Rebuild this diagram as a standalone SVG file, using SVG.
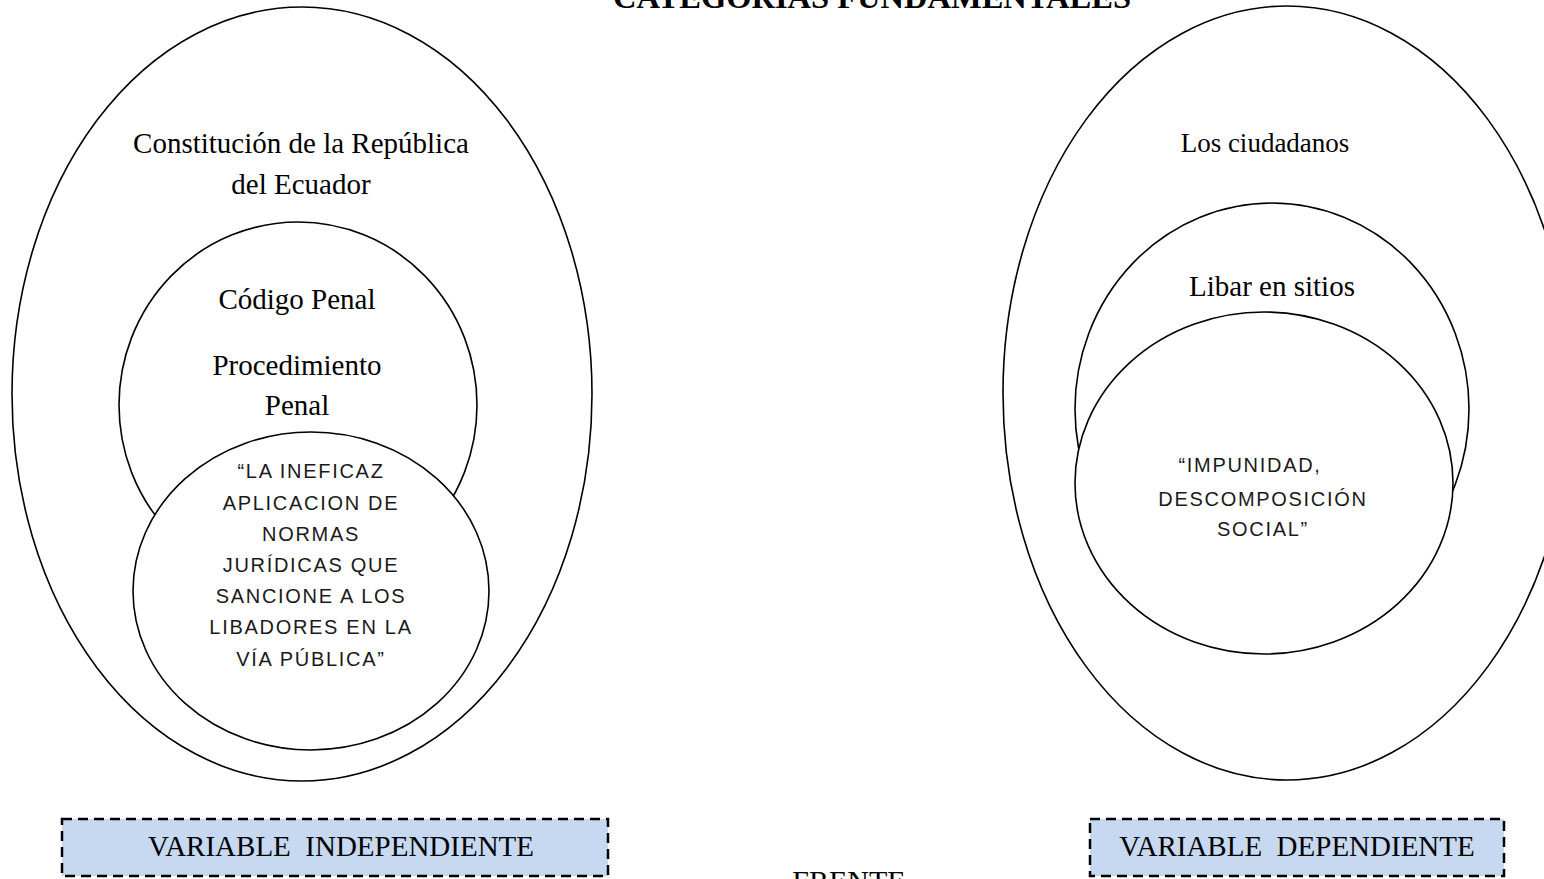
<svg xmlns="http://www.w3.org/2000/svg" width="1544" height="879" viewBox="0 0 1544 879">
<style>
.sh{fill:#fff;stroke:#000;stroke-width:1.6}
.serif{font-family:"Liberation Serif","Times New Roman",serif;font-size:29px;fill:#000;text-anchor:middle}
.sans{font-family:"Liberation Sans",Arial,sans-serif;font-size:20px;letter-spacing:1.7px;fill:#1a1a1a;text-anchor:middle}
.box{fill:#c6d9f1;stroke:#000;stroke-width:2.5;stroke-dasharray:10 6}
</style>
<rect width="1544" height="879" fill="#fff"/>
<g id="title"><text x="872" y="8" class="serif" style="font-weight:bold;font-size:32.5px">CATEGORIAS FUNDAMENTALES</text></g>
<g id="connectors"></g>
<g id="constitucion">
<ellipse class="sh" cx="302" cy="394" rx="290" ry="387"/>
<text class="serif" x="301" y="153">Constitución de la República</text>
<text class="serif" x="301" y="194">del Ecuador</text>
</g>
<g id="codigo">
<ellipse class="sh" cx="298" cy="405" rx="179" ry="183"/>
<text class="serif" x="297" y="309">Código Penal</text>
<text class="serif" x="297" y="375">Procedimiento</text>
<text class="serif" x="297" y="415">Penal</text>
</g>
<g id="ineficaz">
<ellipse class="sh" cx="311" cy="591" rx="178" ry="159"/>
<text class="sans" x="311" y="478">“LA INEFICAZ</text>
<text class="sans" x="311" y="510">APLICACION DE</text>
<text class="sans" x="311" y="541">NORMAS</text>
<text class="sans" x="311" y="572">JURÍDICAS QUE</text>
<text class="sans" x="311" y="603">SANCIONE A LOS</text>
<text class="sans" x="311" y="634">LIBADORES EN LA</text>
<text class="sans" x="311" y="666">VÍA PÚBLICA”</text>
</g>
<g id="ciudadanos">
<ellipse class="sh" cx="1287" cy="393" rx="284" ry="387"/>
<text class="serif" x="1265" y="152" style="font-size:27px">Los ciudadanos</text>
</g>
<g id="libar">
<ellipse class="sh" cx="1272" cy="409" rx="197" ry="206"/>
<text class="serif" x="1272" y="296">Libar en sitios</text>
</g>
<g id="impunidad">
<ellipse class="sh" cx="1264" cy="483" rx="189" ry="171"/>
<text class="sans" x="1250" y="472">“IMPUNIDAD,</text>
<text class="sans" x="1263" y="506">DESCOMPOSICIÓN</text>
<text class="sans" x="1263" y="536">SOCIAL”</text>
</g>
<g id="var-independiente">
<rect class="box" x="62" y="819" width="546" height="57"/>
<text class="serif" x="341" y="856" xml:space="preserve">VARIABLE  INDEPENDIENTE</text>
</g>
<g id="var-dependiente">
<rect class="box" x="1090" y="819" width="414" height="57"/>
<text class="serif" x="1297" y="856" xml:space="preserve">VARIABLE  DEPENDIENTE</text>
</g>
<g id="frente"><text class="serif" x="849" y="891" style="font-size:30px">FRENTE</text></g>
</svg>
